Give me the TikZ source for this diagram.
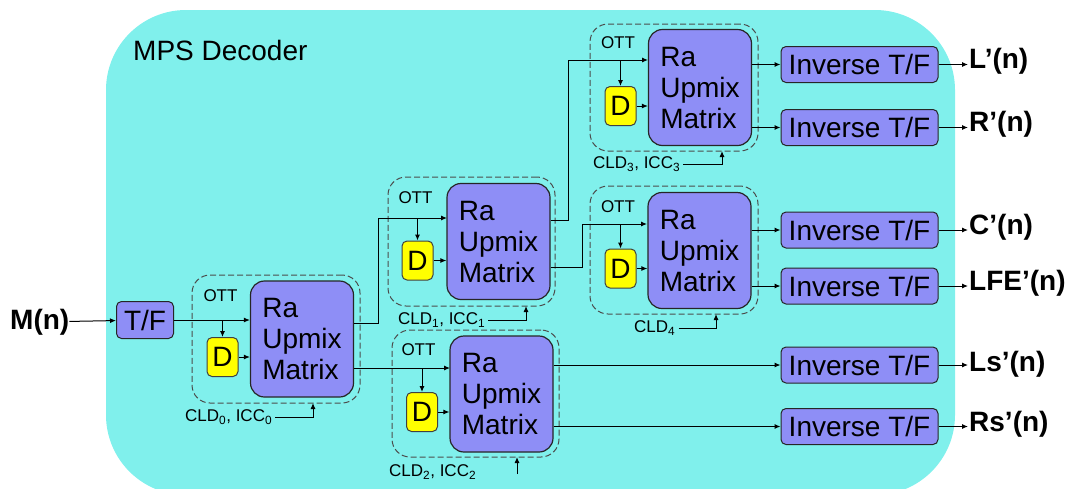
\documentclass[tikz,border=0pt]{standalone}
\usepackage{fontspec}
\setmainfont{Liberation Sans}
\usetikzlibrary{arrows.meta, positioning, calc}

\definecolor{bgcyan}{RGB}{128,240,236}
\definecolor{boxblue}{RGB}{142,142,246}
\definecolor{dyellow}{RGB}{255,255,0}

\begin{document}
\begin{tikzpicture}[
    x=1pt, y=-1pt, % one unit per pixel, y pointing down
    >={Latex[length=6pt,width=5pt]}, % Set default arrow tip style
    sig/.style={->, line width=1pt}, % Style for signal arrows
    upmix/.style={draw=black!85, fill=boxblue, line width=1.2pt, rounded corners=14pt,
        minimum width=103pt, minimum height=116pt, inner sep=0pt, align=left,
        font=\fontsize{28}{31}\selectfont}, % Style for the upmix matrices
    delay/.style={draw=black!75, fill=dyellow, line width=1pt, rounded corners=5pt,
        minimum width=31pt, minimum height=39pt, inner sep=0pt,
        font=\fontsize{28}{30}\selectfont}, % Style for the D boxes
    ottbox/.style={draw=black!70, dash pattern=on 6pt off 3pt, line width=1pt,
        rounded corners=18pt, inner sep=0pt}, % Style for the dashed OTT frames
    invbox/.style={draw=black!85, fill=boxblue, line width=1pt, rounded corners=5pt,
        minimum width=157pt, minimum height=36pt, inner sep=0pt,
        font=\fontsize{28}{30}\selectfont}, % Style for the inverse T/F boxes
    outlabel/.style={anchor=west, inner sep=1pt,
        font=\fontsize{28}{30}\selectfont\bfseries}, % Style for signal names
    tinytext/.style={inner sep=3pt, font=\fontsize{17}{19}\selectfont} % Style for OTT and CLD labels
]

    % Page and background
    \useasboundingbox (0,0) rectangle (1070,488);
    \clip (0,0) rectangle (1070,488);
    \fill[bgcyan, rounded corners=80pt] (106,10) rectangle (955,495);
    \node[anchor=west, inner sep=0pt, font=\fontsize{28}{30}\selectfont] (title) at (133,50) {MPS Decoder};

    % Input and T/F
    \node[outlabel, inner sep=0pt] (mIn) at (10,322) {M(n)};
    \node[invbox, minimum width=57pt, minimum height=37pt] (tf) at (145,320) {T/F};

    % Dashed OTT frames
    \node[ottbox, minimum width=168pt, minimum height=128pt] (ott0) at (276,339) {};
    \node[ottbox, minimum width=167pt, minimum height=129pt] (ott1) at (471.5,241.5) {};
    \node[ottbox, minimum width=167pt, minimum height=127pt] (ott2) at (475.5,393.5) {};
    \node[ottbox, minimum width=168pt, minimum height=127pt] (ott3) at (674,87.5) {};
    \node[ottbox, minimum width=168pt, minimum height=128pt] (ott4) at (674,250) {};

    % OTT labels
    \node[tinytext] (ottl0) at (220.5,296) {OTT};
    \node[tinytext] (ottl1) at (415.5,198) {OTT};
    \node[tinytext] (ottl2) at (418.5,350) {OTT};
    \node[tinytext] (ottl3) at (618,43) {OTT};
    \node[tinytext] (ottl4) at (618,207) {OTT};

    % Upmix matrices
    \node[upmix] (up0) at (302,339) {Ra\\Upmix\\Matrix};
    \node[upmix] (up1) at (498.5,241.5) {Ra\\Upmix\\Matrix};
    \node[upmix] (up2) at (501.5,394) {Ra\\Upmix\\Matrix};
    \node[upmix] (up3) at (700,87.5) {Ra\\Upmix\\Matrix};
    \node[upmix] (up4) at (699.5,250.5) {Ra\\Upmix\\Matrix};

    % Decorrelators
    \node[delay] (d0) at (222.5,357) {D};
    \node[delay] (d1) at (417.5,260.5) {D};
    \node[delay] (d2) at (422,412) {D};
    \node[delay] (d3) at (620.5,106) {D};
    \node[delay] (d4) at (620.5,268.5) {D};

    % Inverse T/F boxes
    \node[invbox] (invL) at (859.5,64.5) {Inverse T/F};
    \node[invbox] (invR) at (859.5,127.5) {Inverse T/F};
    \node[invbox] (invC) at (859.5,230) {Inverse T/F};
    \node[invbox] (invLFE) at (859.5,286) {Inverse T/F};
    \node[invbox] (invLs) at (859.5,365) {Inverse T/F};
    \node[invbox] (invRs) at (859.5,426.5) {Inverse T/F};

    % Output names
    \node[outlabel] (oL) at (968,61) {L’(n)};
    \node[outlabel] (oR) at (968,124) {R’(n)};
    \node[outlabel] (oC) at (968,227) {C’(n)};
    \node[outlabel] (oLFE) at (968,283) {LFE’(n)};
    \node[outlabel] (oLs) at (968,364) {Ls’(n)};
    \node[outlabel] (oRs) at (968,424) {Rs’(n)};

    % Parameter labels
    \node[tinytext, anchor=west] (cld0) at (182,417) {CLD\textsubscript{0}, ICC\textsubscript{0}};
    \node[tinytext, anchor=west] (cld1) at (395,320) {CLD\textsubscript{1}, ICC\textsubscript{1}};
    \node[tinytext, anchor=west] (cld2) at (386,472) {CLD\textsubscript{2}, ICC\textsubscript{2}};
    \node[tinytext, anchor=west] (cld3) at (590,164) {CLD\textsubscript{3}, ICC\textsubscript{3}};
    \node[tinytext, anchor=west] (cld4) at (631,328) {CLD\textsubscript{4}};

    % Bends and ports
    \coordinate (k0) at (378,323);
    \coordinate (k1) at (568,220);
    \coordinate (k2) at (582,267);
    \coordinate (in1) at (447,218);
    \coordinate (in2) at (450,368);
    \coordinate (in3) at (648,60);
    \coordinate (in4) at (647,224);
    \coordinate (c0) at (313,403);
    \coordinate (c1) at (526,306);
    \coordinate (c2) at (517,457);
    \coordinate (c2s) at (517,474);
    \coordinate (c3) at (722,151);
    \coordinate (c4) at (716,314);

    % Input path
    \draw[sig] (mIn) -- (tf);
    \draw[sig] (tf.east) -- (tf.east -| up0.west);
    \draw[sig] (tf.east -| d0.north) -- (d0.north);
    \draw[sig] (d0.east) -- (d0.east -| up0.west);

    % First OTT to second and third
    \draw[sig] (up0.east |- k0) -- (k0) |- (in1);
    \draw[sig] (up0.east |- in2) -- (in2);
    \draw[sig] (in1 -| d1.north) -- (d1.north);
    \draw[sig] (d1.east) -- (d1.east -| up1.west);
    \draw[sig] (in2 -| d2.north) -- (d2.north);
    \draw[sig] (d2.east) -- (d2.east -| up2.west);

    % Second OTT to the upper pair
    \draw[sig] (up1.east |- k1) -- (k1) |- (in3);
    \draw[sig] (up1.east |- k2) -- (k2) |- (in4);
    \draw[sig] (in3 -| d3.north) -- (d3.north);
    \draw[sig] (d3.east) -- (d3.east -| up3.west);
    \draw[sig] (in4 -| d4.north) -- (d4.north);
    \draw[sig] (d4.east) -- (d4.east -| up4.west);

    % Upmix outputs
    \draw[sig] (up3.east |- invL) -- (invL);
    \draw[sig] (up3.east |- invR) -- (invR);
    \draw[sig] (up4.east |- invC) -- (invC);
    \draw[sig] (up4.east |- invLFE) -- (invLFE);
    \draw[sig] (up2.east |- invLs) -- (invLs);
    \draw[sig] (up2.east |- invRs) -- (invRs);

    % Final outputs
    \draw[sig] (invL) -- (oL.west |- invL);
    \draw[sig] (invR) -- (oR.west |- invR);
    \draw[sig] (invC) -- (oC.west |- invC);
    \draw[sig] (invLFE) -- (oLFE.west |- invLFE);
    \draw[sig] (invLs) -- (oLs.west |- invLs);
    \draw[sig] (invRs) -- (oRs.west |- invRs);

    % Parameters
    \draw[sig] (cld0) -| (c0);
    \draw[sig] (cld1) -| (c1);
    \draw[sig] (c2s) -- (c2);
    \draw[sig] (cld3) -| (c3);
    \draw[sig] (cld4) -| (c4);

\end{tikzpicture}
\end{document}
